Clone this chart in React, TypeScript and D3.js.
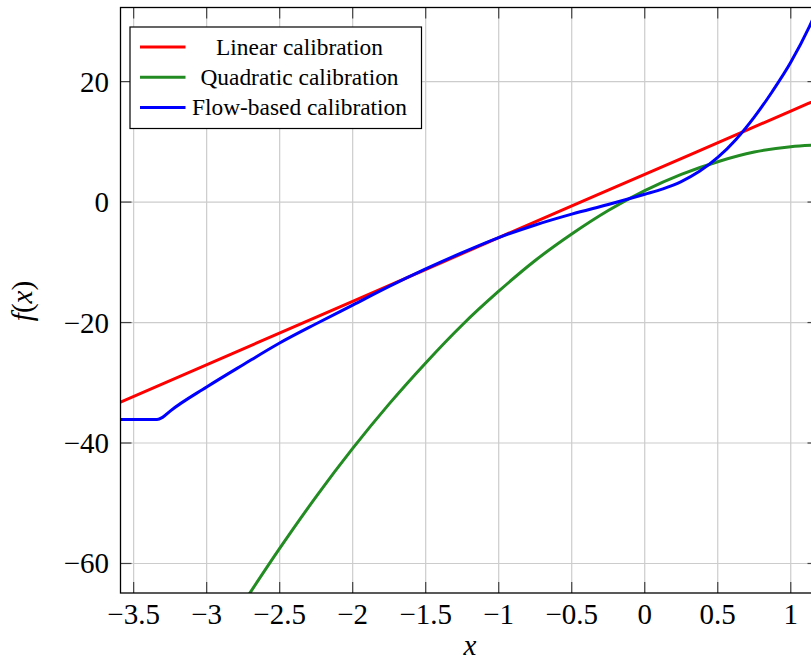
import React from "react";
import * as d3 from "d3";

const xTicks = [-3.5, -3, -2.5, -2, -1.5, -1, -0.5, 0, 0.5, 1];
const yTicks = [-60, -40, -20, 0, 20];

const linearX = [-3.59, -2, -1, 0, 1, 1.19];
const linearY = [-33.2, -16.5, -5.9, 4.6, 15.1, 17.1];

const quadX = [-2.75, -2.5, -2.25, -2.0, -1.75, -1.5, -1.25, -1.0, -0.75, -0.5, -0.25, 0, 0.25, 0.5, 0.75, 1.0, 1.19];
const quadY = [-66.6, -57.5, -48.9, -40.9, -33.5, -26.7, -20.4, -14.8, -9.7, -5.3, -1.4, 1.9, 4.6, 6.7, 8.3, 9.2, 9.5];

const flowX = [-3.59, -3.34, -3.3, -3.25, -3.0, -2.75, -2.5, -2.25, -2.0, -1.75, -1.5, -1.25, -1.0, -0.75, -0.5, -0.25, 0, 0.125, 0.25, 0.375, 0.5, 0.625, 0.75, 0.875, 1.0, 1.125, 1.19];
const flowY = [-36.1, -36.1, -35.7, -34.7, -30.7, -27.0, -23.4, -20.2, -17.1, -14.0, -11.1, -8.4, -5.9, -3.8, -2.0, -0.4, 1.3, 2.2, 3.4, 5.1, 7.4, 10.4, 14.1, 18.4, 23.2, 29.0, 32.5];

const seriesNames = ["Linear calibration", "Quadratic calibration", "Flow-based calibration"];
const seriesColors = ["#ff0000", "#228b22", "#0000ff"];

const W = 811;
const H = 665;
const L = 120.5;
const R = 818.5;
const T = 7.5;
const B = 593;

const fmt = (v: number) => (v < 0 ? "\u2212" + String(Math.abs(v)) : String(v));

export default function App() {
  const x = d3.scaleLinear().domain([-3.59, 1.19]).range([L, R]);
  const y = d3.scaleLinear().domain([-64.9, 32.3]).range([B, T]);

  const series = [
    { xs: linearX, ys: linearY },
    { xs: quadX, ys: quadY },
    { xs: flowX, ys: flowY },
  ];
  const line = d3
    .line<[number, number]>()
    .x((d) => x(d[0]))
    .y((d) => y(d[1]))
    .curve(d3.curveMonotoneX);

  const font = "'Liberation Serif', 'Times New Roman', serif";
  const tickLen = 11;

  return (
    <svg
      width={W}
      height={H}
      style={{ position: "absolute", left: 0, top: 0, background: "#fff" }}
      fontFamily={font}
    >
      <defs>
        <clipPath id="plotclip">
          <rect x={L} y={T} width={R - L} height={B - T} />
        </clipPath>
      </defs>
      <rect x={0} y={0} width={W} height={H} fill="#fff" />
      {/* grid */}
      <g stroke="#cccccc" strokeWidth={1.2}>
        {xTicks.map((t) => (
          <line key={"gx" + t} x1={x(t)} x2={x(t)} y1={T} y2={B} />
        ))}
        {yTicks.map((t) => (
          <line key={"gy" + t} x1={L} x2={R} y1={y(t)} y2={y(t)} />
        ))}
      </g>
      {/* ticks */}
      <g stroke="#444" strokeWidth={1.2}>
        {xTicks.map((t) => (
          <g key={"tx" + t}>
            <line x1={x(t)} x2={x(t)} y1={B} y2={B - tickLen} />
            <line x1={x(t)} x2={x(t)} y1={T} y2={T + tickLen} />
          </g>
        ))}
        {yTicks.map((t) => (
          <g key={"ty" + t}>
            <line x1={L} x2={L + tickLen} y1={y(t)} y2={y(t)} />
            <line x1={R} x2={R - tickLen} y1={y(t)} y2={y(t)} />
          </g>
        ))}
      </g>
      {/* curves */}
      <g clipPath="url(#plotclip)" fill="none" strokeWidth={3} strokeLinejoin="round">
        {series.map((s, i) => (
          <path
            key={"s" + i}
            d={line(s.xs.map((v, j) => [v, s.ys[j]] as [number, number])) || ""}
            stroke={seriesColors[i]}
          />
        ))}
      </g>
      {/* frame */}
      <rect x={L} y={T} width={R - L} height={B - T} fill="none" stroke="#000" strokeWidth={1.3} />
      {/* tick labels */}
      <g fontSize={29} fill="#000">
        {xTicks.map((t) => (
          <text key={"lx" + t} x={x(t)} y={624} textAnchor="middle">
            {fmt(t)}
          </text>
        ))}
        {yTicks.map((t) => (
          <text key={"ly" + t} x={109} y={y(t) + 10} textAnchor="end">
            {fmt(t)}
          </text>
        ))}
      </g>
      {/* axis labels */}
      <text x={470} y={655} fontSize={29} textAnchor="middle" fontStyle="italic">
        x
      </text>
      <text
        transform={`translate(32, 301) rotate(-90)`}
        fontSize={29}
        textAnchor="middle"
      >
        <tspan fontStyle="italic">f</tspan>
        <tspan>(</tspan>
        <tspan fontStyle="italic">x</tspan>
        <tspan>)</tspan>
      </text>
      {/* legend */}
      <g>
        <rect x={130} y={27} width={291.5} height={101.5} fill="#fff" stroke="#000" strokeWidth={1.2} />
        {seriesNames.map((n, i) => (
          <g key={"lg" + i}>
            <line x1={140} x2={185.5} y1={47 + i * 30.3} y2={47 + i * 30.3} stroke={seriesColors[i]} strokeWidth={3} />
            <text x={299.5} y={47 + i * 30.3 + 7.5} fontSize={23.4} textAnchor="middle">
              {n}
            </text>
          </g>
        ))}
      </g>
    </svg>
  );
}
